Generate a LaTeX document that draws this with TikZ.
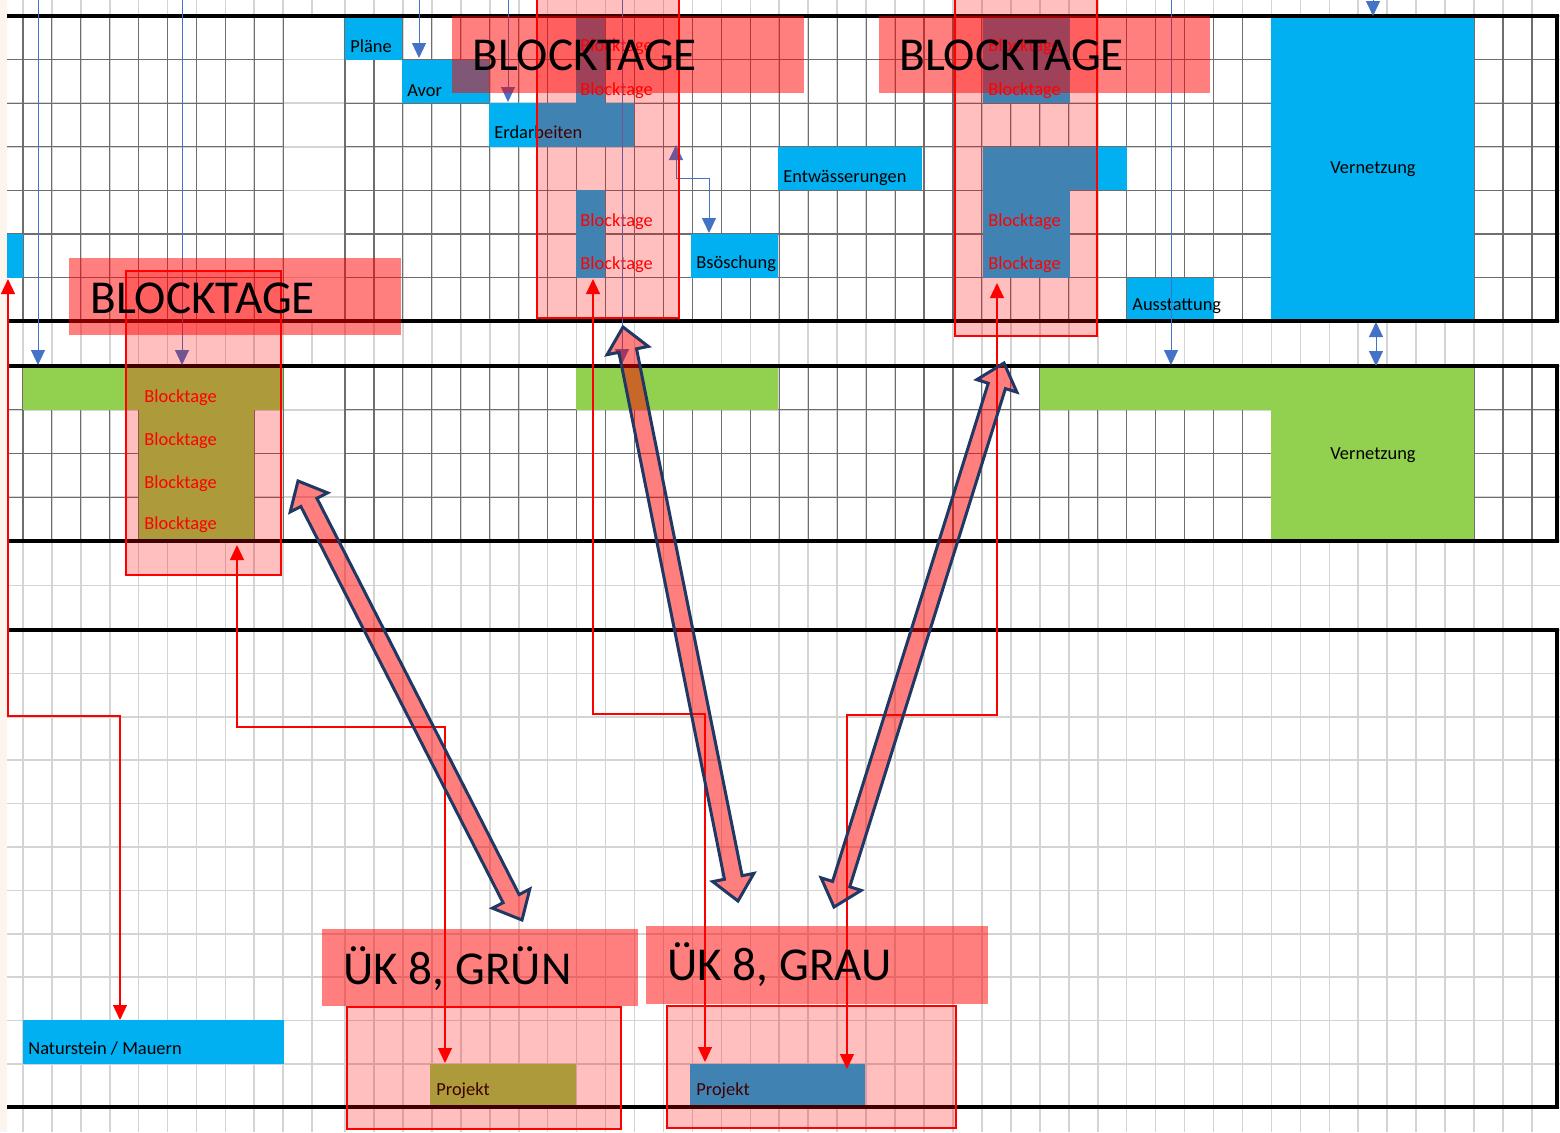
\documentclass[tikz,border=0pt]{standalone}
\usepackage{fontspec}
\setmainfont{Carlito}
\usetikzlibrary{calc,arrows.meta}
\definecolor{xcyan}{RGB}{0,176,240}
\definecolor{xgreen}{RGB}{146,208,80}
\definecolor{xblue}{RGB}{68,114,196}
\definecolor{xnavy}{RGB}{31,56,100}
\definecolor{xlight}{RGB}{212,212,212}
\definecolor{xdark}{RGB}{110,110,110}
\definecolor{xcream}{RGB}{252,245,238}
\tikzset{
 lightgrid/.style={draw=xlight, line width=0.8pt},
 darkgrid/.style={draw=xdark, line width=0.55pt},
 bandline/.style={draw=black, line width=1.6pt},
 cyancell/.style={fill=xcyan},
 greencell/.style={fill=xgreen},
 lbl/.style={font=\fontsize{9.2}{10}\selectfont, inner sep=0pt, anchor=base west, text=black},
 redlbl/.style={lbl, text=red},
 biglbl/.style={font=\fontsize{23.6}{25}\selectfont, inner sep=0pt, anchor=base west, text=black},
 pinkbox/.style={fill=red, fill opacity=0.25, draw=red, draw opacity=1, line width=1pt},
 banner/.style={fill=red, fill opacity=0.5},
 bluecon/.style={draw=xblue, line width=0.5pt, -{Triangle[length=7.5pt,width=7pt]}},
 bluecontwo/.style={draw=xblue, line width=0.5pt, {Triangle[length=7.5pt,width=7pt]}-{Triangle[length=7.5pt,width=7pt]}},
 redcon/.style={draw=red, line width=0.6pt, {Triangle[length=7.5pt,width=7pt]}-{Triangle[length=7.5pt,width=7pt]}},
 fatarr/.style={fill=red, fill opacity=0.5, draw=xnavy, draw opacity=1, line width=1.5pt, line join=miter},
}
\newcommand\fatarrow[2]{%
 \draw[fatarr] (#1) -- ($(#1)!12pt!(#2)!10.5pt!90:(#2)$) -- ($(#1)!12pt!(#2)!4.5pt!90:(#2)$)
 -- ($(#2)!12pt!(#1)!4.5pt!-90:(#1)$) -- ($(#2)!12pt!(#1)!10.5pt!-90:(#1)$) -- (#2)
 -- ($(#2)!12pt!(#1)!10.5pt!90:(#1)$) -- ($(#2)!12pt!(#1)!4.5pt!90:(#1)$)
 -- ($(#1)!12pt!(#2)!4.5pt!-90:(#2)$) -- ($(#1)!12pt!(#2)!10.5pt!-90:(#2)$) -- cycle;}
\begin{document}
\begin{tikzpicture}[x=0.5pt,y=-0.5pt]
\useasboundingbox (0,0) rectangle (1560,1132);
\clip (0,0) rectangle (1560,1132);
\fill[white] (0,0) rectangle (1560,1132);
\fill[xcream] (0,0) rectangle (7,1132);
% light background grid
\foreach \k in {0,...,9} \draw[lightgrid] ({23+28.9*\k},0) -- ({23+28.9*\k},1132);
\foreach \k in {0,...,41} \draw[lightgrid] ({345+28.95*\k},0) -- ({345+28.95*\k},1132);
\draw[lightgrid] (312,0) -- (312,16) (312,321) -- (312,366) (312,541) -- (312,1132);
\foreach \y in {16,59.6,103.2,146.8,190.4,234,277.6,321,366,409.75,453.5,497.25,541,585.5}
  \draw[lightgrid] (7,\y) -- (1560,\y);
\foreach \k in {0,...,11} \draw[lightgrid] (7,{630+43.4*\k}) -- (1560,{630+43.4*\k});
% dark cell borders in the two bands
\foreach \ya/\yb in {16/321,366/541} {
  \foreach \k in {0,...,9} \draw[darkgrid] ({23+28.9*\k},\ya) -- ({23+28.9*\k},\yb);
  \foreach \k in {0,...,41} \draw[darkgrid] ({345+28.95*\k},\ya) -- ({345+28.95*\k},\yb);
}
\foreach \y in {59.6,103.2,146.8,190.4,234,277.6,409.75,453.5,497.25}
  \draw[darkgrid] (7,\y) -- (283.1,\y) (345,\y) -- (1557,\y);
% cyan cells (band 1)
\fill[cyancell] (7,234) rectangle (23,277.6);
\fill[cyancell] (345,16) rectangle (402,59.6);
\fill[cyancell] (402,59.6) rectangle (489,103.2);
\fill[cyancell] (489,103.2) rectangle (634,146.8);
\fill[cyancell] (576,16) rectangle (605,103.2);
\fill[cyancell] (576,190.4) rectangle (605,277.6);
\fill[cyancell] (778,146.8) rectangle (922,190.4);
\fill[cyancell] (691,234) rectangle (778,277.6);
\fill[cyancell] (983,16) rectangle (1070,103.2);
\fill[cyancell] (983,146.8) rectangle (1127,190.4);
\fill[cyancell] (983,190.4) rectangle (1070,277.6);
\fill[cyancell] (1127,277.6) rectangle (1214,321);
\fill[cyancell] (1271,16) rectangle (1474,321);
% green cells (band 2)
\fill[greencell] (23,366) rectangle (283,409.75);
\fill[greencell] (139,409.75) rectangle (254,541);
\fill[greencell] (576,366) rectangle (778,409.75);
\fill[greencell] (1040,366) rectangle (1271,409.75);
\fill[greencell] (1271,366) rectangle (1474,541);
% bottom cells
\fill[cyancell] (23,1020) rectangle (284,1063.6);
\fill[greencell] (430,1063.6) rectangle (576,1107);
\fill[cyancell] (690,1063.6) rectangle (865,1107);
% band borders
\draw[bandline] (7,16) -- (1557,16) -- (1557,321) -- (7,321);
\draw[bandline] (7,366) -- (1557,366) -- (1557,541) -- (7,541);
\draw[bandline] (7,630) -- (1557,630) -- (1557,1107) -- (7,1107);
% labels
\node[lbl] (plaene) at (350,52) {Pläne};
\node[lbl] (avor) at (407,96) {Avor};
\node[lbl] (erd) at (494,138) {Erdarbeiten};
\node[lbl] (entw) at (783,182) {Entwässerungen};
\node[lbl] (bsoe) at (696,268) {Bsöschung};
\node[lbl] (ausst) at (1132,310) {Ausstattung};
\node[lbl, anchor=center] (vern1) at (1373,169) {Vernetzung};
\node[lbl, anchor=center] (vern2) at (1373,455) {Vernetzung};
\node[lbl] (natur) at (28,1054) {Naturstein / Mauern};
\node[lbl] (proj1) at (436,1095) {Projekt};
\node[lbl] (proj2) at (696,1095) {Projekt};
\foreach \y [count=\i] in {51,95,226,269} {
  \node[redlbl] (bta\i) at (580,\y) {Blocktage};
  \node[redlbl] (btb\i) at (988,\y) {Blocktage};
}
\foreach \y [count=\i] in {402,445,488,529}
  \node[redlbl] (btc\i) at (144,\y) {Blocktage};
% blue connectors
\coordinate (b1s) at (38,0);    \coordinate (b1e) at (38,365);
\coordinate (b2s) at (182,0);   \coordinate (b2e) at (182,365);
\coordinate (b3s) at (419,0);   \coordinate (b3e) at (419,58);
\coordinate (b4s) at (508,0);   \coordinate (b4e) at (508,102);
\coordinate (b5s) at (622,0);   \coordinate (b5e) at (622,364);
\coordinate (b6s) at (1171,0);  \coordinate (b6e) at (1171,365);
\coordinate (b7s) at (1373,0);  \coordinate (b7e) at (1373,16);
\coordinate (b8s) at (1376,322); \coordinate (b8e) at (1376,366);
\coordinate (b9s) at (676,145); \coordinate (b9m) at (692.5,178); \coordinate (b9e) at (709,233);
\foreach \i in {1,...,7} \draw[bluecon] (b\i s) -- (b\i e);
\draw[bluecontwo] (b8s) -- (b8e);
\draw[bluecontwo] (b9s) |- (b9m) -| (b9e);
% red connectors
\coordinate (r1s) at (8,279);   \coordinate (r1m) at (64,716);  \coordinate (r1e) at (120,1020);
\coordinate (r2s) at (237,545); \coordinate (r2m) at (341,727); \coordinate (r2e) at (445,1063);
\coordinate (r3s) at (593,279); \coordinate (r3m) at (649,714); \coordinate (r3e) at (705,1062);
\coordinate (r4s) at (997,283); \coordinate (r4m) at (922,715); \coordinate (r4e) at (847,1069);
\foreach \i in {1,...,4} \draw[redcon] (r\i s) |- (r\i m) -| (r\i e);
% pink boxes
\draw[pinkbox] (537,-2) rectangle (679,318);
\draw[pinkbox] (955,-2) rectangle (1097,336);
\draw[pinkbox] (126,271) rectangle (281,575);
\draw[pinkbox] (347,1007) rectangle (621,1129);
\draw[pinkbox] (667,1006) rectangle (956,1128);
% banners
\fill[banner] (452,16) rectangle (804,93);
\fill[banner] (879,16) rectangle (1210,93);
\fill[banner] (69,258) rectangle (401,335);
\fill[banner] (322,929) rectangle (638,1006);
\fill[banner] (646,926) rectangle (988,1004);
\node[biglbl] (bl1) at (472,70) {BLOCKTAGE};
\node[biglbl] (bl2) at (899,70) {BLOCKTAGE};
\node[biglbl] (bl3) at (90,313) {BLOCKTAGE};
\node[biglbl] (ukg) at (343,984) {ÜK 8, GRÜN};
\node[biglbl] (uka) at (667,980) {ÜK 8, GRAU};
% fat double arrows
\coordinate (f1a) at (298,481);  \coordinate (f1b) at (522,920);
\coordinate (f2a) at (623,327);  \coordinate (f2b) at (738,901);
\coordinate (f3a) at (1004,363); \coordinate (f3b) at (834,907);
\fatarrow{f1a}{f1b}
\fatarrow{f2a}{f2b}
\fatarrow{f3a}{f3b}
\end{tikzpicture}
\end{document}
